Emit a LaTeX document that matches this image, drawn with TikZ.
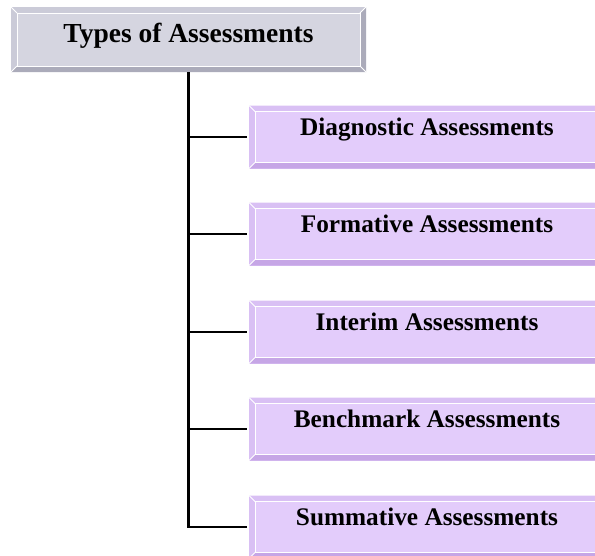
\documentclass[tikz,border=0pt]{standalone}
\usepackage{fontspec}
\setmainfont{Liberation Serif}
\usepackage{tikz}
\usepackage{xcolor}

\definecolor{headfill}{HTML}{D5D5E0}
\definecolor{headlight}{HTML}{CBCBD8}
\definecolor{headdark}{HTML}{ABABBA}
\definecolor{itemfill}{HTML}{E3CCFB}
\definecolor{itemlight}{HTML}{D9C0F4}
\definecolor{itemdark}{HTML}{C6A6E6}

% bevelled frame drawn inside a node's path picture
\newcommand{\bevel}[2]{%
  \coordinate (nw) at (path picture bounding box.north west);
  \coordinate (ne) at (path picture bounding box.north east);
  \coordinate (sw) at (path picture bounding box.south west);
  \coordinate (se) at (path picture bounding box.south east);
  \coordinate (inw) at ([xshift=6pt,yshift=-6pt]nw);
  \coordinate (ine) at ([xshift=-6pt,yshift=-6pt]ne);
  \coordinate (isw) at ([xshift=6pt,yshift=6pt]sw);
  \coordinate (ise) at ([xshift=-6pt,yshift=6pt]se);
  \fill[#1] (nw) -- (ne) -- (ine) -- (inw) -- cycle;
  \fill[#1] (nw) -- (inw) -- (isw) -- (sw) -- cycle;
  \fill[#2] (sw) -- (isw) -- (ise) -- (se) -- cycle;
  \fill[#2] (ne) -- (ine) -- (ise) -- (se) -- cycle;
  \draw[white, line width=1pt] (inw) rectangle (ise);
  \draw[white, line width=1pt] (nw) -- (inw) (ne) -- (ine) (sw) -- (isw) (se) -- (ise);
}

\begin{document}
\begin{tikzpicture}[
  x=1pt, y=-1pt,
  headbox/.style={fill=headfill, minimum width=355pt, minimum height=65pt,
                  inner sep=0pt, text height=18pt, text depth=12pt,
                  font=\fontsize{27.5}{30}\selectfont\bfseries,
                  path picture={\bevel{headlight}{headdark}}},
  itembox/.style={fill=itemfill, minimum width=356pt, minimum height=63pt,
                  inner sep=0pt, text height=16.5pt, text depth=19.5pt,
                  font=\fontsize{25.3}{28}\selectfont\bfseries,
                  path picture={\bevel{itemlight}{itemdark}}},
  trunk/.style={line width=2.6pt},
  branch/.style={line width=1.8pt, shorten >=2pt}
]
  \useasboundingbox (0,0) rectangle (595,555);

  \node[headbox] (types) at (188.5,39.5) {Types of Assessments};

  \node[itembox] (diagnostic) at (427,137) {Diagnostic Assessments};
  \node[itembox] (formative) at (427,234) {Formative Assessments};
  \node[itembox] (interim) at (427,332) {Interim Assessments};
  \node[itembox] (benchmark) at (427,429) {Benchmark Assessments};
  \node[itembox] (summative) at (427,527) {Summative Assessments};

  \draw[trunk] (types.south) -- (types.south |- summative.west);
  \draw[branch] (types.south |- diagnostic.west) -- (diagnostic.west);
  \draw[branch] (types.south |- formative.west) -- (formative.west);
  \draw[branch] (types.south |- interim.west) -- (interim.west);
  \draw[branch] (types.south |- benchmark.west) -- (benchmark.west);
  \draw[branch] ([xshift=-1.3pt]types.south |- summative.west) -- (summative.west);
\end{tikzpicture}
\end{document}
